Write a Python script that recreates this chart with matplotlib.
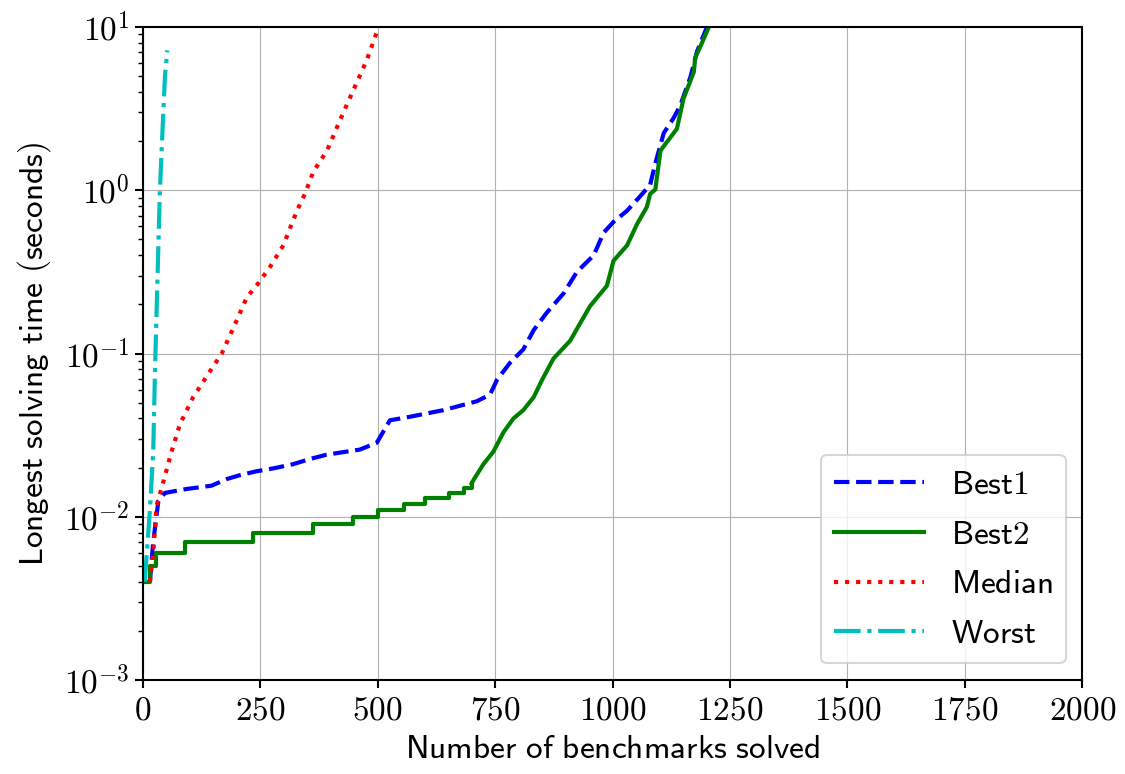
import math
import matplotlib
matplotlib.use("Agg")
import matplotlib.pyplot as plt
from matplotlib.ticker import FuncFormatter, FixedLocator

plt.rcParams['mathtext.fontset'] = 'cm'

# Data
worst_x = [4, 15, 22, 26, 31, 36, 42, 47, 52]
worst_y = [0.004, 0.011, 0.025, 0.083, 0.28, 0.95, 2.4, 5.0, 7.2]

median_x = [15, 22, 29, 40, 61, 79, 107, 143, 168, 200, 221, 246, 271, 299, 328, 345, 363, 392, 420, 448, 477, 502]
median_y = [0.004, 0.006, 0.0117, 0.015, 0.025, 0.037, 0.054, 0.078, 0.1, 0.16, 0.22, 0.27,
            0.34, 0.46, 0.75, 0.95, 1.3, 1.75, 2.7, 4.1, 6.3, 10.0]

best1_x = [15, 22, 33, 47, 93, 146, 178, 207, 242, 278, 320, 356, 391, 462, 498, 526, 569, 640,
           711, 739, 754, 782, 810, 832, 860, 896, 924, 960, 981, 1002, 1031, 1059, 1080, 1091,
           1109, 1130, 1144, 1166, 1180, 1201]
best1_y = [0.004, 0.007, 0.0125, 0.014, 0.0148, 0.0155, 0.017, 0.018, 0.019, 0.0198, 0.021, 0.0226,
           0.024, 0.0258, 0.0284, 0.039, 0.041, 0.045, 0.051, 0.056, 0.069, 0.088, 0.106, 0.139,
           0.178, 0.234, 0.316, 0.40, 0.55, 0.64, 0.75, 0.92, 1.08, 1.46, 2.24, 2.77, 3.3, 4.96,
           7.1, 10.0]

best2_x = [0, 15, 29, 90, 235, 363, 448, 501, 555, 601, 651, 683, 700, 705, 725, 746, 768, 789,
           810, 832, 850, 874, 910, 928, 952, 988, 1002, 1031, 1052, 1073, 1080, 1091, 1102, 1116,
           1137, 1151, 1173, 1176, 1187, 1205]
best2_y = [0.004, 0.005, 0.006, 0.007, 0.008, 0.009, 0.010, 0.011, 0.012, 0.013, 0.014, 0.015,
           0.016, 0.017, 0.021, 0.025, 0.033, 0.040, 0.045, 0.054, 0.069, 0.093, 0.12, 0.148,
           0.195, 0.26, 0.37, 0.46, 0.62, 0.79, 0.95, 1.01, 1.75, 1.98, 2.38, 3.64, 5.3, 6.5,
           7.6, 10.0]

labels = ['Best1', 'Best2', 'Median', 'Worst']
x_ticks = [0, 250, 500, 750, 1000, 1250, 1500, 1750, 2000]

fig = plt.figure(figsize=(11.25, 7.74), dpi=100)
ax = fig.add_axes([0.127, 0.1214, 0.835, 0.8437])

lw = 3
ax.plot(best1_x, best1_y, 'b--', lw=lw, label=labels[0])
# stepped early part for Best2
n_step = 13
ax.step(best2_x[:n_step], best2_y[:n_step], 'g-', lw=lw, where='post')
ax.plot(best2_x[n_step - 1:], best2_y[n_step - 1:], 'g-', lw=lw, label=labels[1])
ax.plot(median_x, median_y, 'r:', lw=lw, label=labels[2])
ax.plot(worst_x, worst_y, 'c-.', lw=lw, label=labels[3])

ax.set_yscale('log')
ax.set_ylim(1e-3, 10)
ax.set_xlim(0, 2000)
ax.xaxis.set_major_locator(FixedLocator(x_ticks))
ax.xaxis.set_major_formatter(FuncFormatter(lambda v, p: r'$%d$' % v))
ax.yaxis.set_major_formatter(FuncFormatter(lambda v, p: r'$10^{%d}$' % round(math.log10(v))))
ax.tick_params(axis='both', labelsize=24, width=1.5, length=6)
ax.tick_params(axis='y', which='minor', width=1, length=3.5)

ax.grid(True, which='major', color='#b0b0b0', lw=0.8)
for s in ax.spines.values():
    s.set_linewidth(1.5)

ax.set_xlabel(r'$\mathsf{Number\ of\ benchmarks\ solved}$', fontsize=24)
ax.set_ylabel(r'$\mathsf{Longest\ solving\ time\ (seconds)}$', fontsize=24, labelpad=8)

handles, labs = ax.get_legend_handles_labels()
leg = ax.legend(handles, labs, loc='lower right', prop={'size': 24, 'family': 'DejaVu Sans'},
                handlelength=2.7)
leg.get_frame().set_linewidth(1.5)
for t, l in zip(leg.get_texts(), labs):
    t.set_text(r'$\mathsf{%s}$' % l)

fig.savefig('out.png', dpi=100)
